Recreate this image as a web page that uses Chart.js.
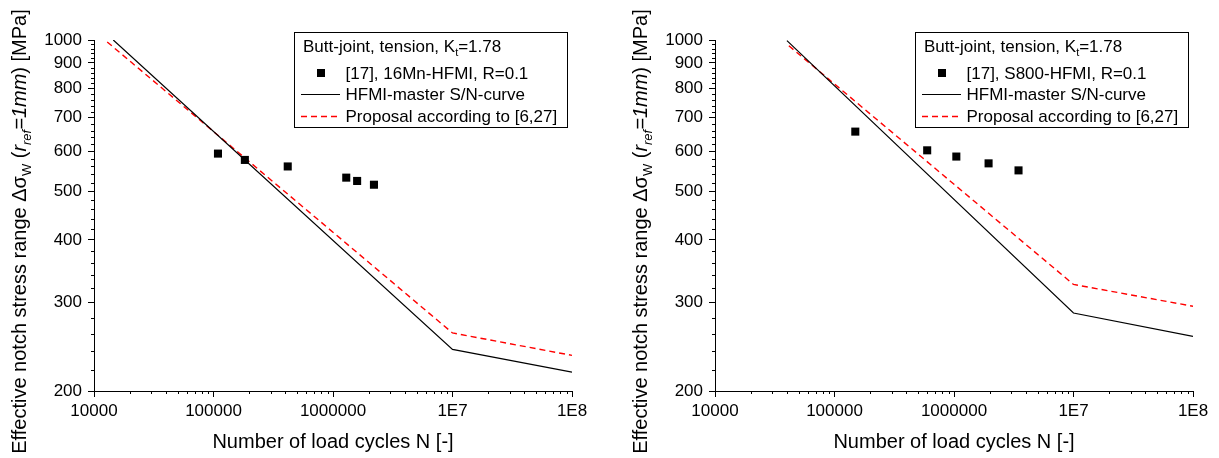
<!DOCTYPE html>
<html>
<head>
<meta charset="utf-8">
<script src="https://cdn.jsdelivr.net/npm/chart.js@4.4.0/dist/chart.umd.min.js"></script>
<style>
  html, body { margin: 0; padding: 0; background: #fff; }
  canvas { position: absolute; top: 0; }
</style>
</head>
<body>
<canvas id="mnChart" width="600" height="458" style="left:0"></canvas>
<canvas id="s800Chart" width="598" height="458" style="left:621px"></canvas>
<script>
// axis ticks
const xTickValues = [1e4, 1e5, 1e6, 1e7, 1e8];
const xTickLabels = ["10000", "100000", "1000000", "1E7", "1E8"];
const yTickValues = [200, 300, 400, 500, 600, 700, 800, 900, 1000];

const xTitle = "Number of load cycles N [-]";
const legendTitle = ["Butt-joint, tension, K", "t", "=1.78"];
const masterLabel = "HFMI-master S/N-curve";
const proposalLabel = "Proposal according to [6,27]";

// 16Mn-HFMI test results
const mnLabel = "[17], 16Mn-HFMI, R=0.1";
const mnCycles = [109000, 183000, 418000, 1291000, 1592000, 2201000];
const mnStress = [594, 577, 560, 532, 524, 515];
const mnMasterCycles = [14500, 1e7, 1e8];
const mnMasterStress = [1000, 242, 218];
const mnProposalCycles = [12900, 1e7, 1e8];
const mnProposalStress = [991, 261, 235.5];

// S800-HFMI test results
const s800Label = "[17], S800-HFMI, R=0.1";
const s800Cycles = [149300, 596500, 1046000, 1947000, 3467000];
const s800Stress = [657, 603, 586, 568, 550];
const s800MasterCycles = [40000, 1e7, 1e8];
const s800MasterStress = [997, 286, 257];
const s800ProposalCycles = [41500, 1e7, 1e8];
const s800ProposalStress = [974, 326, 295];

const FONT = '"Liberation Sans", Arial, sans-serif';
const fontStr = (size, italic) => (italic ? "italic " : "") + size + "px " + FONT;

const toPoints = (xs, ys) => xs.map((x, i) => ({ x: x, y: ys[i] }));

// draws a run of text pieces (normal / italic / subscript) along the x axis
function drawRich(ctx, parts, x, y, size, measureOnly) {
  let cx = x;
  for (const p of parts) {
    const s = p.sub ? Math.round(size * 0.65) : size;
    ctx.font = fontStr(s, p.italic);
    if (!measureOnly) ctx.fillText(p.text, cx, y + (p.sub ? size * 0.26 : 0));
    cx += ctx.measureText(p.text).width;
  }
  return cx - x;
}

const yTitleParts = [
  { text: "Effective notch stress range " },
  { text: "\u0394\u03c3" },
  { text: "W", sub: true },
  { text: " (" },
  { text: "r", italic: true },
  { text: "ref", italic: true, sub: true },
  { text: "=1mm", italic: true },
  { text: ") [MPa]" },
];

const yTitlePlugin = {
  id: "yTitle",
  afterDraw(chart) {
    const ctx = chart.ctx;
    ctx.save();
    ctx.fillStyle = "#000";
    ctx.textBaseline = "alphabetic";
    ctx.translate(26, 231.5);
    ctx.rotate(-Math.PI / 2);
    const w = drawRich(ctx, yTitleParts, 0, 0, 20, true);
    drawRich(ctx, yTitleParts, -w / 2, 0, 20, false);
    ctx.restore();
  },
};

// short ticks between the labelled ones
const minorTickPlugin = {
  id: "minorTicks",
  afterDraw(chart) {
    const { ctx, chartArea: a, scales } = chart;
    ctx.save();
    ctx.strokeStyle = "#000";
    ctx.lineWidth = 1;
    ctx.beginPath();
    for (let k = 4; k < 8; k++) {
      for (let m = 2; m <= 9; m++) {
        const px = Math.round(scales.x.getPixelForValue(m * Math.pow(10, k))) + 0.5;
        ctx.moveTo(px, a.bottom);
        ctx.lineTo(px, a.bottom + 3);
      }
    }
    for (let v = 220; v < 1000; v += 20) {
      if (v % 100 === 0) continue;
      const py = Math.round(scales.y.getPixelForValue(v)) + 0.5;
      ctx.moveTo(a.left, py);
      ctx.lineTo(a.left - 3, py);
    }
    ctx.stroke();
    ctx.restore();
  },
};

const boxLegendPlugin = {
  id: "boxLegend",
  afterDraw(chart) {
    const { ctx, chartArea: a } = chart;
    const ds = chart.data.datasets;
    const x0 = a.left + 200, x1 = a.right - 5, y0 = a.top - 8, y1 = a.top + 87;
    ctx.save();
    ctx.fillStyle = "#fff";
    ctx.fillRect(x0, y0, x1 - x0, y1 - y0);
    ctx.strokeStyle = "#000";
    ctx.lineWidth = 1;
    ctx.strokeRect(Math.round(x0) + 0.5, Math.round(y0) + 0.5, x1 - x0, y1 - y0);

    ctx.fillStyle = "#000";
    ctx.textBaseline = "alphabetic";
    drawRich(ctx, [
      { text: legendTitle[0] },
      { text: legendTitle[1], sub: true },
      { text: legendTitle[2] },
    ], a.left + 209, a.top + 12, 17, false);

    const textX = a.left + 251.5;
    const rows = [a.top + 33, a.top + 54, a.top + 76];
    ctx.textBaseline = "middle";
    ctx.font = fontStr(17);

    // scatter marker
    ctx.fillRect(a.left + 223, rows[0] - 4, 8, 8);
    ctx.fillText(ds[0].label, textX, rows[0] + 1);

    // line samples
    [1, 2].forEach((i, n) => {
      const y = rows[n + 1] + 0.5;
      ctx.save();
      ctx.strokeStyle = ds[i].borderColor;
      ctx.lineWidth = ds[i].borderWidth;
      ctx.setLineDash(ds[i].borderDash || []);
      ctx.beginPath();
      ctx.moveTo(a.left + 207, y);
      ctx.lineTo(a.left + 246, y);
      ctx.stroke();
      ctx.restore();
      ctx.fillText(ds[i].label, textX, rows[n + 1] + 1);
    });
    ctx.restore();
  },
};

function drawSNChart(id, pointLabel, cycles, stress, masterC, masterS, propC, propS) {
  const canvas = document.getElementById(id);
  return new Chart(canvas.getContext("2d"), {
    type: "scatter",
    data: {
      datasets: [
        {
          label: pointLabel,
          data: toPoints(cycles, stress),
          pointStyle: "rect",
          pointRadius: 5.7,
          backgroundColor: "#000",
          borderWidth: 0,
        },
        {
          label: masterLabel,
          data: toPoints(masterC, masterS),
          showLine: true,
          borderColor: "#000",
          borderWidth: 1.2,
          pointRadius: 0,
        },
        {
          label: proposalLabel,
          data: toPoints(propC, propS),
          showLine: true,
          borderColor: "#ff0000",
          borderWidth: 1.4,
          borderDash: [6, 4],
          pointRadius: 0,
        },
      ],
    },
    options: {
      responsive: false,
      animation: false,
      devicePixelRatio: 1,
      layout: { padding: { left: 0, top: 40, right: canvas.width - 572, bottom: 0 } },
      scales: {
        x: {
          type: "logarithmic",
          min: 1e4,
          max: 1e8,
          afterBuildTicks: (scale) => {
            scale.ticks = xTickValues.map((v) => ({ value: v, major: true }));
          },
          afterFit: (scale) => { scale.height = 67; },
          ticks: {
            autoSkip: false,
            maxRotation: 0,
            padding: 4,
            color: "#000",
            font: { family: FONT, size: 17 },
            callback: (v) => xTickLabels[xTickValues.indexOf(v)],
          },
          grid: { drawOnChartArea: false, tickLength: 6, color: "#000" },
          border: { color: "#000", width: 1 },
          title: {
            display: true,
            text: xTitle,
            color: "#000",
            font: { family: FONT, size: 20 },
            padding: { top: 0, bottom: 4 },
          },
        },
        y: {
          type: "logarithmic",
          min: 200,
          max: 1000,
          afterBuildTicks: (scale) => {
            scale.ticks = yTickValues.map((v) => ({ value: v, major: true }));
          },
          afterFit: (scale) => { scale.width = 94; },
          ticks: {
            autoSkip: false,
            padding: 6,
            color: "#000",
            font: { family: FONT, size: 17 },
            callback: (v) => String(v),
          },
          grid: { drawOnChartArea: false, tickLength: 6, color: "#000" },
          border: { color: "#000", width: 1 },
        },
      },
      plugins: {
        legend: { display: false },
        tooltip: { enabled: false },
      },
    },
    plugins: [minorTickPlugin, yTitlePlugin, boxLegendPlugin],
  });
}

drawSNChart("mnChart", mnLabel, mnCycles, mnStress,
  mnMasterCycles, mnMasterStress, mnProposalCycles, mnProposalStress);
drawSNChart("s800Chart", s800Label, s800Cycles, s800Stress,
  s800MasterCycles, s800MasterStress, s800ProposalCycles, s800ProposalStress);
</script>
</body>
</html>
